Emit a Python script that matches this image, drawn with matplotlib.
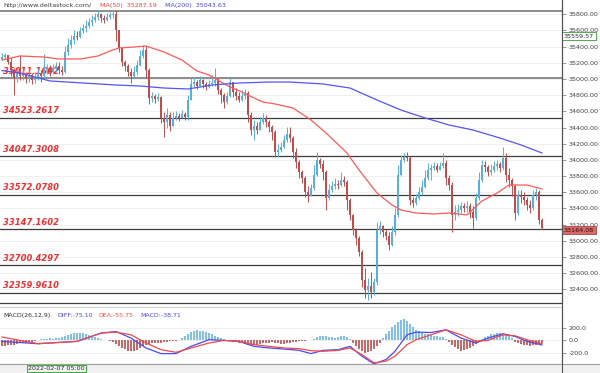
import numpy as np
import matplotlib
matplotlib.use("Agg")
import matplotlib.pyplot as plt
from matplotlib.transforms import blended_transform_factory
from matplotlib.patches import Rectangle
from matplotlib.lines import Line2D

plt.rcParams['font.family'] = ['DejaVu Sans']

# ---- price data ----
first_open = 35250
closes = [
    35272, 35297, 35211, 35112, 35013, 35087, 35038, 35062, 35013, 35050,
    34988, 35025, 35075, 35038, 35112, 35136, 35087, 35124, 35161, 35112,
    35087, 35334, 35421, 35483, 35532, 35520, 35594, 35631, 35656, 35705,
    35730, 35767, 35804, 35754, 35730, 35767, 35792, 35804, 35606, 35384,
    35211, 35161, 35087, 35038, 35087, 35174, 35285, 35359, 35112, 34766,
    34790, 34753, 34778, 34518, 34469, 34556, 34420, 34518, 34543, 34518,
    34568, 34531, 34741, 34939, 34963, 34914, 34988, 34939, 34902, 34939,
    34951, 34988, 34865, 34803, 34716, 34790, 34963, 34840, 34790, 34741,
    34790, 34827, 34556, 34370, 34420, 34370, 34469, 34518, 34469, 34407,
    34345, 34098, 34123, 34160, 34247, 34321, 34271, 34098, 33975, 33851,
    33777, 33604, 33554, 33653, 33814, 33999, 33950, 33851, 33530, 33629,
    33678, 33703, 33690, 33752, 33727, 33505, 33320, 33134, 33035, 32862,
    32516, 32393, 32442, 32368, 32491, 33134, 33184, 33109, 33060, 32949,
    33109, 33320, 33814, 33999, 34036, 34024, 33505, 33468, 33530, 33604,
    33666, 33777, 33876, 33900, 33925, 33876, 33925, 33962, 33777, 33690,
    33320, 33357, 33381, 33431, 33406, 33431, 33357, 33282, 33530, 33752,
    33938, 33913, 33851, 33876, 33925, 33950, 33900, 34024, 33814, 33752,
    33678, 33344, 33567, 33542, 33505, 33443, 33406, 33567, 33604, 33258,
    33164.08]
highs = [
    35322, 35322, 35297, 35260, 35136, 35161, 35297, 35112, 35087, 35112,
    35075, 35087, 35124, 35112, 35310, 35186, 35174, 35186, 35211, 35211,
    35161, 35408, 35507, 35544, 35606, 35594, 35643, 35680, 35730, 35754,
    35792, 35816, 35853, 35816, 35792, 35816, 35829, 35853, 35853, 35606,
    35396, 35235, 35186, 35136, 35161, 35235, 35359, 35421, 35408, 35136,
    34840, 34815, 34827, 34790, 34593, 34642, 34593, 34593, 34605, 34580,
    34617, 34593, 34803, 35013, 35025, 34988, 35038, 35001, 34963, 34988,
    35050, 35136, 35013, 34889, 34827, 34840, 35013, 34926, 34889, 34840,
    34865, 34877, 34852, 34593, 34494, 34469, 34531, 34580, 34556, 34494,
    34432, 34370, 34197, 34222, 34308, 34407, 34407, 34296, 34148, 33999,
    33876, 33802, 33678, 33703, 33938, 34098, 34024, 33999, 33876, 33703,
    33740, 33777, 33752, 33851, 33802, 33752, 33530, 33332, 33159, 33060,
    32887, 32665, 32541, 32615, 32541, 33233, 33245, 33196, 33147, 33109,
    33184, 33406, 33938, 34061, 34086, 34098, 34049, 33542, 33579, 33666,
    33752, 33876, 33962, 33950, 33975, 33962, 33975, 34086, 33999, 33814,
    33727, 33443, 33456, 33480, 33468, 33493, 33468, 33431, 33592, 33851,
    33999, 33987, 33938, 33950, 33987, 33999, 33975, 34160, 34086, 33900,
    33777, 33703, 33629, 33629, 33604, 33542, 33505, 33629, 33653, 33629,
    33283]
lows = [
    35235, 35248, 35186, 35038, 34803, 34963, 34988, 34988, 34951, 34963,
    34939, 34951, 34988, 34963, 35013, 35062, 35038, 35062, 35087, 35062,
    35050, 35075, 35297, 35384, 35433, 35483, 35507, 35569, 35581, 35631,
    35656, 35705, 35730, 35705, 35693, 35717, 35742, 35754, 35470, 35334,
    35161, 35099, 35038, 34951, 35013, 35050, 35161, 35260, 35013, 34692,
    34716, 34704, 34729, 34457, 34284, 34395, 34358, 34432, 34494, 34481,
    34518, 34494, 34494, 34741, 34902, 34877, 34914, 34889, 34865, 34889,
    34914, 34914, 34815, 34704, 34642, 34692, 34778, 34778, 34741, 34716,
    34729, 34753, 34469, 34308, 34247, 34321, 34395, 34444, 34407, 34345,
    34247, 34036, 34036, 34098, 34148, 34222, 34222, 34024, 33900, 33777,
    33715, 33542, 33480, 33567, 33629, 33802, 33900, 33752, 33381, 33505,
    33604, 33641, 33641, 33678, 33678, 33381, 33258, 33072, 32949, 32813,
    32430, 32294, 32269, 32294, 32331, 32454, 33085, 33048, 33010, 32887,
    32936, 33072, 33295, 33802, 33975, 33987, 33443, 33418, 33443, 33505,
    33567, 33653, 33752, 33752, 33876, 33851, 33876, 33900, 33690, 33629,
    33109, 33258, 33307, 33344, 33357, 33357, 33282, 33159, 33258, 33505,
    33727, 33851, 33802, 33814, 33851, 33876, 33851, 33876, 33727, 33666,
    33554, 33258, 33320, 33468, 33443, 33381, 33344, 33381, 33505, 33208,
    33147]

# moving averages, read at a few bars
ma50_idx = [0, 6, 14, 19, 26, 32, 36, 39, 44, 48, 54, 60, 65, 69, 73, 76, 80, 84, 87,
            91, 97, 103, 108, 115, 119, 125, 130, 133, 138, 144, 149, 155, 160, 165,
            169, 175, 180]
ma50_val = [35235, 35285, 35272, 35248, 35248, 35285, 35347, 35384, 35396, 35408, 35334,
            35235, 35099, 35050, 34963, 34902, 34840, 34766, 34716, 34692, 34642, 34494,
            34333, 34086, 33876, 33591, 33443, 33381, 33344, 33332, 33344, 33320, 33493,
            33591, 33690, 33690, 33641]
ma200_idx = [0, 6, 11, 16, 27, 38, 46, 54, 62, 70, 79, 89, 96, 107, 116, 125, 133, 141,
             149, 157, 166, 173, 180]
ma200_val = [35105, 35075, 35025, 34976, 34951, 34926, 34914, 34889, 34877, 34926, 34951,
             34963, 34963, 34939, 34889, 34741, 34617, 34519, 34432, 34370, 34271, 34185,
             34086]

# support / resistance levels
level_vals = [35835, 35011.1602, 34523.2617, 34047.3008, 33572.0780, 33147.1602,
              32700.4297, 32359.9610]
level_labels = ['', '35011.1602', '34523.2617', '34047.3008', '33572.0780', '33147.1602',
                '32700.4297', '32359.9610']
price_ticks = list(range(32400, 35801, 200))
tag_green = 35559.57
tag_last = 33164.08

# MACD(26,12,9)
macd_hist = [
    -90, -85, -80, -75, -70, -60, -50, -45, -40, -30, -20, -10,
    15, 20, 25, 30, 35, 30, 35, 40,
    50, 70, 90, 110, 120, 125, 120, 115, 100, 85, 70, 50, 35, 20,
    10, 5, -10, -30,
    -60, -90, -120, -150, -170, -180, -175, -160, -130, -100, -80,
    -60, -50, -45, -40, -35, -30, -20, -15, -10, -5, 10,
    40, 80, 110, 140, 155, 165, 160, 150, 135, 120, 100, 80, 60, 40, 25, 15,
    -10, -20, -30, -40, -50, -60, -70, -75, -80, -70, -60, -50, -40, -35, -30, -40,
    -50, -60, -55, -45, -35, -25, -20, -15, -10, -5, 5, 15,
    30, 50, 70, 80, 75, 60, 50, 40, 55, 70, 80, 60, 30,
    -40, -90, -140, -180, -200, -190, -170, -140, -100, -50,
    40, 100, 160, 220, 260, 300, 330, 350, 320, 280,
    220, 180, 150, 130, 110, 100, 90, 80, 70, 60, 50, 30,
    -30, -70, -110, -150, -170, -160, -140, -120, -90, -60, -20,
    30, 60, 80, 100, 110, 120, 115, 100, 90, 70, 40,
    -20, -40, -60, -70, -80, -85, -80, -70, -60, -38.71]
macd_idx = [0, 12, 25, 33, 38, 43, 48, 53, 58, 63, 69, 74, 79, 84, 89, 94, 99, 103, 107,
            112, 116, 120, 124, 128, 131, 135, 138, 143, 148, 153, 158, 162, 167, 171,
            175, 180]
diff_val = [-16, -54, -16, 121, 148, 39, -125, -218, -218, -98, 11, 0, -16, -98, -125,
            -142, -164, -218, -164, -153, -98, -262, -387, -317, -180, 93, 137, 131, 175,
            39, -43, 39, 110, 66, -16, -75.10]
dea_val = [56, -54, -16, 121, 137, 93, -43, -153, -197, -125, -43, 0, -16, -70, -98,
           -125, -136, -169, -180, -164, -125, -235, -371, -344, -262, -70, 11, 93, 175,
           93, -16, 0, 93, 77, 11, -55.75]
macd_ticks = [200, 0, -200]

# ---- layout ----
W, H = 600, 373
BLUE = '#58aede'
RED = '#c24c4c'
AXIS_X = 562


def fx(px):
    return px / W


def fy(py):
    return 1 - py / H


fig = plt.figure(figsize=(6, 3.73), dpi=100)
fig.patch.set_facecolor('white')
ax = fig.add_axes([0, fy(303.3), fx(AXIS_X), 303.3 / H])
axm = fig.add_axes([0, fy(364), fx(AXIS_X), (364 - 307) / H])

# ---- candles ----
c = np.array(closes, float)
o = np.r_[first_open, c[:-1]]
hi = np.maximum(np.array(highs, float), np.maximum(o, c))
lo = np.minimum(np.array(lows, float), np.minimum(o, c))
idx = np.arange(len(c))
col = np.where(c >= o, BLUE, RED)
ax.vlines(idx, lo, hi, colors=col, lw=0.7, zorder=3)
ax.bar(idx, np.maximum(np.abs(c - o), 8), bottom=np.minimum(o, c), width=0.62,
       color=col, lw=0, zorder=3)

ax.plot(ma50_idx, ma50_val, color='#ff5a5a', lw=0.9, zorder=4)
ax.plot(ma200_idx, ma200_val, color='#5555f5', lw=0.9, zorder=4)

xlim = (-0.667, 186.67)
ax.set_xlim(xlim)
ax.set_ylim(32228, 35977)
ax.set_xticks([])
ax.yaxis.tick_right()
ax.set_yticks(price_ticks)
ax.set_yticklabels([f"{v:.2f}" for v in price_ticks])
ax.tick_params(axis='y', labelsize=4.6, labelcolor='#404040', color='#707070',
               length=3, width=0.5, pad=1.5)
ax.grid(axis='y', color='#eeeeee', lw=0.6, zorder=0)
for s in ['left', 'top']:
    ax.spines[s].set_visible(False)
ax.spines['right'].set_color('#505050')
ax.spines['right'].set_linewidth(0.8)
ax.spines['bottom'].set_color('#404040')
ax.spines['bottom'].set_linewidth(0.9)

trans = blended_transform_factory(ax.transAxes, ax.transData)
for k, (v, lab) in enumerate(zip(level_vals, level_labels)):
    if k < 2:
        ax.axhline(v, color='#8c8c8c', lw=1.4, zorder=1)
    else:
        ax.axhline(v, color='#3c3c3c', lw=0.9, zorder=1)
    if lab:
        ax.annotate(lab, xy=(0, v), xycoords=trans, xytext=(2, 1.6),
                    textcoords='offset points', fontsize=6, fontweight='bold',
                    fontstyle='italic', color='#f03030', va='bottom', ha='left',
                    zorder=2)

# price tags on the axis
ax.annotate(f"{tag_green:.2f}", xy=(1, tag_green), xycoords=trans, xytext=(1.3, 0),
            textcoords='offset points', fontsize=4.6, color='#303030', va='top',
            ha='left', annotation_clip=False,
            bbox=dict(boxstyle='square,pad=0.25', fc='white', ec='#3a9a3a', lw=0.6))
ax.annotate(f"{tag_last:.2f}", xy=(1, tag_last), xycoords=trans, xytext=(1.3, 0),
            textcoords='offset points', fontsize=4.6, color='#3a0a0a', va='top',
            ha='left', annotation_clip=False,
            bbox=dict(boxstyle='square,pad=0.25', fc='#d46a6a', ec='#b04848', lw=0.6))

# header
fig.text(fx(3), fy(5.5), 'http://www.deltastock.com/', fontsize=4.6, color='#3a3a3a',
         va='center')
fig.text(fx(100), fy(5.5), 'MA(50)  35287.19', fontsize=4.6, color='#f04040',
         va='center')
fig.text(fx(165), fy(5.5), 'MA(200)  35043.63', fontsize=4.6, color='#4646ee',
         va='center')

# ---- MACD pane ----
h = np.array(macd_hist, float)
axm.bar(idx, h, width=0.35, color=np.where(h >= 0, '#80c0e6', '#c46868'), lw=0,
        zorder=2)
axm.plot(macd_idx, diff_val, color='#4a4af5', lw=0.9, zorder=3)
axm.plot(macd_idx, dea_val, color='#f24a4a', lw=0.9, zorder=3)
axm.set_xlim(xlim)
axm.set_ylim(-390, 553)
axm.set_xticks([])
axm.yaxis.tick_right()
axm.set_yticks(macd_ticks)
axm.set_yticklabels([f"{v:.1f}" for v in macd_ticks])
axm.tick_params(axis='y', labelsize=4.6, labelcolor='#404040', color='#707070',
                length=3, width=0.5, pad=1.5)
axm.grid(axis='y', color='#eeeeee', lw=0.6, zorder=0)
axm.spines['left'].set_visible(False)
axm.spines['top'].set_color('#d0d0d0')
axm.spines['right'].set_color('#505050')
axm.spines['right'].set_linewidth(0.8)
axm.spines['bottom'].set_color('#909090')

ty = fy(315.5)
fig.text(fx(3), ty, 'MACD(26,12,9)', fontsize=4.5, color='#303030', va='center')
fig.text(fx(57), ty, 'DIFF:-75.10', fontsize=4.5, color='#4a4af5', va='center')
fig.text(fx(98), ty, 'DEA:-55.75', fontsize=4.5, color='#f24a4a', va='center')
fig.text(fx(140), ty, 'MACD:-38.71', fontsize=4.5, color='#4a4af5', va='center')

# bottom date strip and right column border
fig.patches.append(Rectangle((0, 0), 1, 9 / H, transform=fig.transFigure,
                             fc='#f0f0f0', ec='none', zorder=0))
fig.lines.append(Line2D([0, 1], [9 / H, 9 / H], transform=fig.transFigure,
                        color='#a0a0a0', lw=0.8))
fig.lines.append(Line2D([fx(AXIS_X), fx(AXIS_X)], [0, 1], transform=fig.transFigure,
                        color='#505050', lw=0.8))
fig.text(fx(28), fy(368.6), '2022-02-07 05:00', fontsize=4.6, color='#303030',
         va='center', ha='left',
         bbox=dict(boxstyle='square,pad=0.2', fc='#f0f0f0', ec='#3caa3c', lw=0.7))

fig.savefig('out.png', dpi=100)
